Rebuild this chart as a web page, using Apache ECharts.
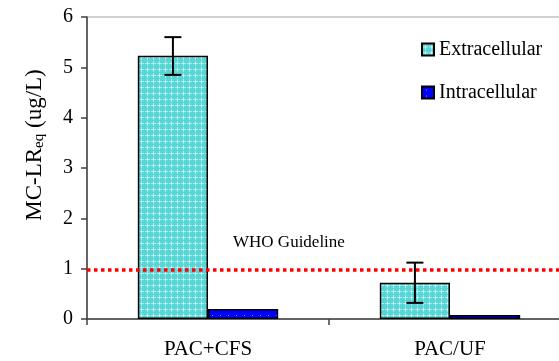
<!DOCTYPE html>
<html><head><meta charset="utf-8">
<script src="https://cdn.jsdelivr.net/npm/echarts@6/dist/echarts.min.js"></script>
<style>html,body{margin:0;padding:0;background:#fff}#c{width:559px;height:361px}</style>
</head><body><div id="c"></div>
<script>
var categories = ['PAC+CFS', 'PAC/UF'];
var extracellular = [5.23, 0.72];
var intracellular = [0.20, 0.08];
var extraErrLow = [4.85, 0.32];
var extraErrHigh = [5.60, 1.12];
var whoGuideline = 0.97;
var yTicks = [0, 1, 2, 3, 4, 5, 6];

function makePattern(w, h, bg, draw) {
  var c = document.createElement('canvas');
  c.width = w; c.height = h;
  var g = c.getContext('2d');
  g.fillStyle = bg; g.fillRect(0, 0, w, h);
  draw(g);
  return c;
}
var extraTile = makePattern(6, 6, '#58d6d6', function (g) {
  g.fillStyle = '#a8eeee';
  g.fillRect(3, 1, 1, 5); g.fillRect(1, 3, 5, 1);
  g.fillStyle = '#ecfdfd';
  g.fillRect(3, 3, 1, 1);
});
var intraTile = makePattern(8, 6, '#0000ff', function (g) {
  g.fillStyle = '#5aaaff';
  g.fillRect(4, 3, 1, 1);
});

var FONT = 'Liberation Serif';
var BARW = 0.29;

var chart = echarts.init(document.getElementById('c'), null, {renderer: 'canvas'});
chart.setOption({
  animation: false,
  textStyle: {fontFamily: FONT, color: '#000'},
  grid: {left: 87, width: 484, top: 17, bottom: 42, outerBoundsMode: 'none', containLabel: false,
    show: true, borderColor: '#a0a0a0', borderWidth: 1, backgroundColor: '#fff'},
  legend: {
    orient: 'vertical', left: 416, top: 34, itemWidth: 12, itemHeight: 12, itemGap: 22, icon: 'rect',
    textStyle: {fontFamily: FONT, fontSize: 20, color: '#000', lineHeight: 21},
    data: ['Extracellular', 'Intracellular']
  },
  xAxis: {
    type: 'category', data: categories,
    axisLine: {lineStyle: {color: '#404040', width: 1.5}},
    axisTick: {show: true, length: 6, lineStyle: {color: '#404040', width: 1.5}},
    axisLabel: {fontFamily: FONT, fontSize: 21, color: '#000', margin: 20}
  },
  yAxis: {
    type: 'value', min: 0, max: 6, interval: 1,
    axisLine: {show: true, lineStyle: {color: '#404040', width: 1.5}},
    axisTick: {show: true, length: 6, lineStyle: {color: '#404040', width: 1.5}},
    splitLine: {show: false},
    axisLabel: {fontFamily: FONT, fontSize: 20, color: '#000', margin: 14,
      formatter: function (v) { return yTicks.indexOf(v) >= 0 ? String(v) : ''; }}
  },
  graphic: [
    {type: 'text', x: 35, y: 145, rotation: Math.PI / 2,
      style: {text: '{a|MC-LR}{b|eq}{a| (ug/L)}', align: 'center', verticalAlign: 'middle',
        rich: {a: {fontFamily: FONT, fontSize: 23, fill: '#000'},
               b: {fontFamily: FONT, fontSize: 15, fill: '#000', padding: [9, 0, 0, 0]}}}},
    {type: 'text', x: 233, y: 243,
      style: {text: 'WHO Guideline', fontFamily: FONT, fontSize: 17, fill: '#000', verticalAlign: 'middle'}}
  ],
  series: [
    {name: 'Extracellular', type: 'bar', data: extracellular, barWidth: (BARW * 100) + '%', barGap: '0%',
      itemStyle: {color: {image: extraTile, repeat: 'repeat'}, borderColor: '#000', borderWidth: 1.5},
      markLine: {silent: true, symbol: 'none', label: {show: false},
        lineStyle: {color: '#ff0000', width: 3.5, type: [3.5, 3.5]},
        data: [{yAxis: whoGuideline}]}
    },
    {name: 'Intracellular', type: 'bar', data: intracellular, barWidth: (BARW * 100) + '%', barGap: '0%',
      itemStyle: {color: {image: intraTile, repeat: 'repeat'}, borderColor: '#000', borderWidth: 1.5}
    },
    {type: 'custom', z: 10, silent: true,
      data: categories.map(function (c, i) { return [i, extraErrLow[i], extraErrHigh[i]]; }),
      renderItem: function (params, api) {
        var band = api.size([1, 0])[0];
        var lo = api.coord([api.value(0), api.value(1)]);
        var hi = api.coord([api.value(0), api.value(2)]);
        var x = lo[0] - band * BARW / 2;
        var cap = 8.5;
        var st = {stroke: '#000', lineWidth: 2};
        return {type: 'group', children: [
          {type: 'line', shape: {x1: x, y1: lo[1], x2: x, y2: hi[1]}, style: st},
          {type: 'line', shape: {x1: x - cap, y1: lo[1], x2: x + cap, y2: lo[1]}, style: st},
          {type: 'line', shape: {x1: x - cap, y1: hi[1], x2: x + cap, y2: hi[1]}, style: st}
        ]};
      }
    }
  ]
});
</script></body></html>
